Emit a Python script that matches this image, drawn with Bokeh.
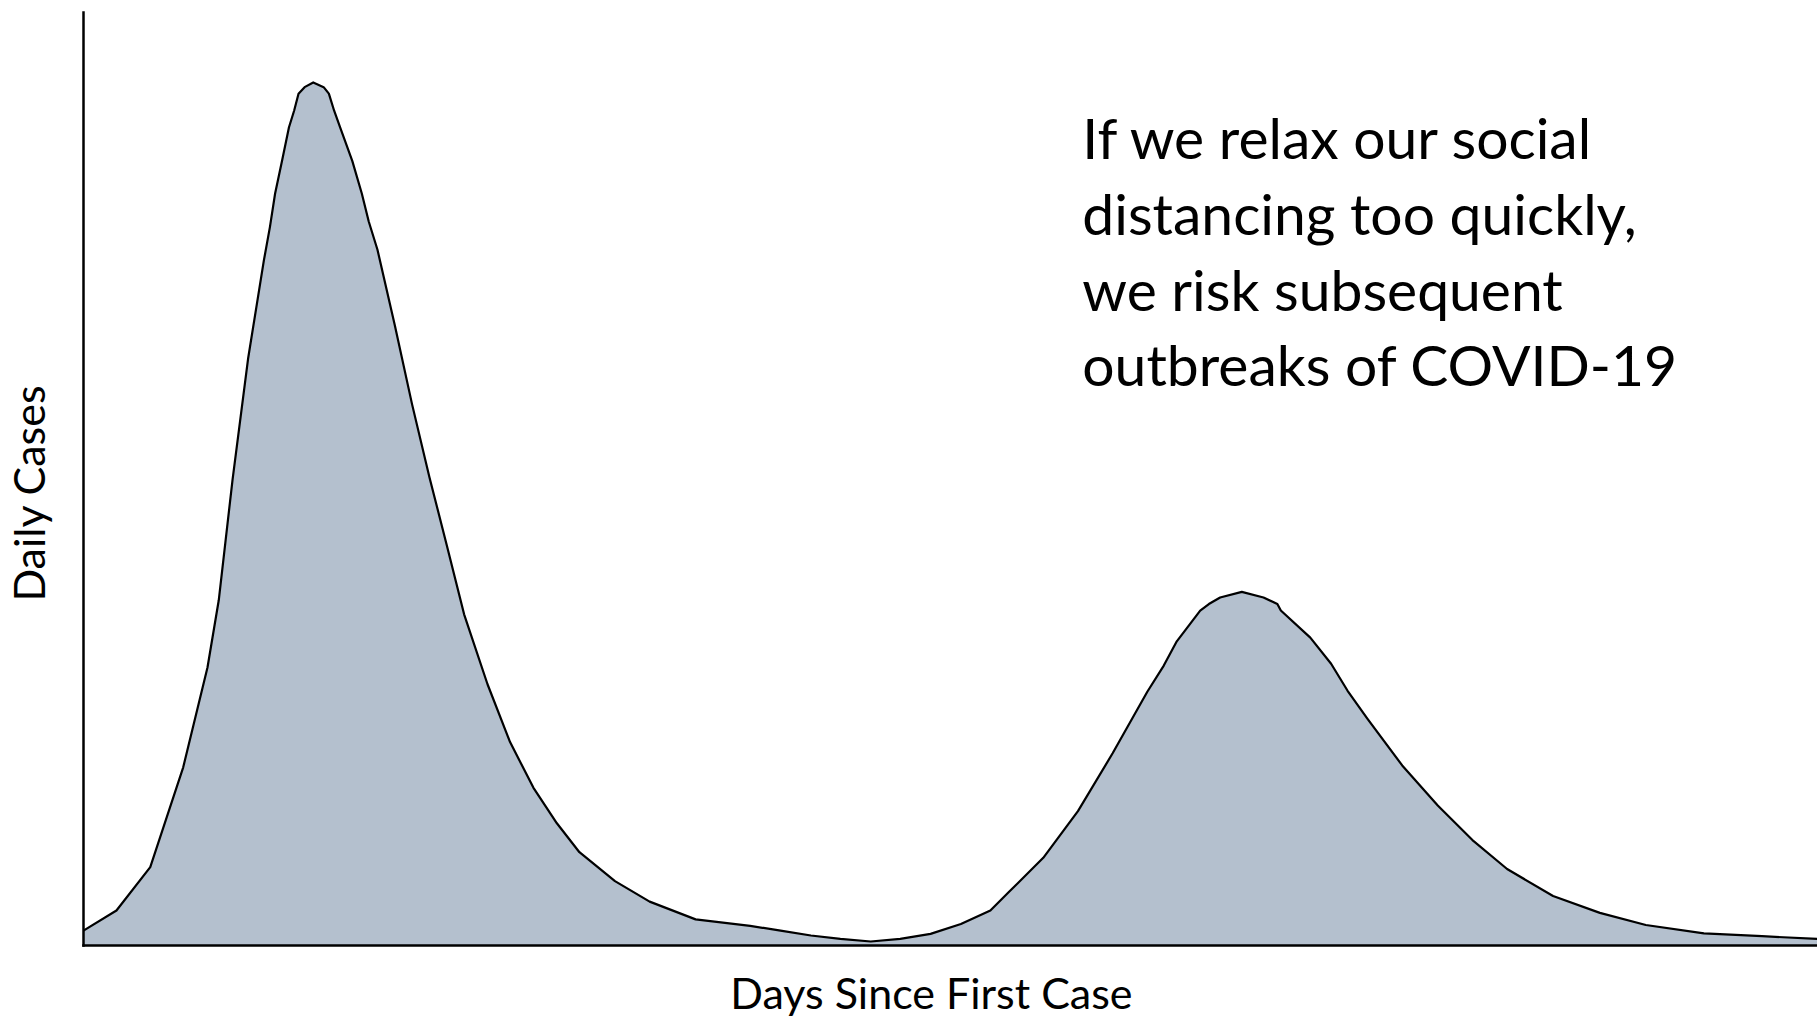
import math
from bokeh.plotting import figure
from bokeh.models import Range1d, Label
from bokeh.embed import file_html
from bokeh.resources import INLINE

# Days since first case (x) and daily cases (arbitrary units, y)
days = [0.0, 3.8, 7.7, 11.5, 14.3, 15.6, 17.2, 19.0, 20.8, 21.5, 22.1, 22.9,
        23.7, 24.3, 24.8, 25.5, 26.5, 27.7, 28.3, 28.9, 29.6, 31.0, 32.1,
        32.9, 33.9, 35.9, 37.9, 39.9, 41.9, 43.9, 46.6, 49.2, 51.9, 54.6,
        57.2, 61.3, 65.3, 70.6, 76.9, 80.4, 83.9, 87.3, 90.8, 94.2, 97.7,
        101.2, 104.6, 106.7, 110.7, 114.7, 118.7, 122.7, 124.6, 126.1, 128.8,
        129.8, 131.1, 133.6, 136.1, 137.7, 138.1, 141.5, 143.9, 145.8, 148.1,
        152.1, 156.2, 160.2, 164.2, 169.5, 174.9, 180.2, 186.9, 193.6, 200.0]
cases = [1.6, 3.75, 8.4, 19.1, 29.8, 37.0, 50.0, 63.0, 73.4, 77.0, 80.6, 84.1,
         87.7, 89.5, 91.3, 92.0, 92.5, 92.0, 91.3, 89.5, 87.7, 84.1, 80.6,
         77.6, 74.6, 66.5, 58.0, 50.2, 42.9, 35.5, 28.0, 21.8, 16.9, 13.1,
         10.0, 6.9, 4.7, 2.8, 2.1, 1.6, 1.07, 0.71, 0.43, 0.71, 1.25,
         2.3, 3.75, 5.7, 9.4, 14.4, 20.6, 27.2, 30.0, 32.6, 35.9,
         36.6, 37.3, 37.9, 37.3, 36.6, 35.9, 33.0, 30.2, 27.3, 24.3,
         19.3, 15.0, 11.3, 8.2, 5.3, 3.5, 2.2, 1.3, 1.0, 0.7]

annotation_lines = ["If we relax our social",
                    "distancing too quickly,",
                    "we risk subsequent",
                    "outbreaks of COVID-19"]
x_label = "Days Since First Case"
y_label = "Daily Cases"

X_END = 200.0   # right end of the day axis
Y_TOP = 100.0   # top of the case axis

FONT = "Lato"

# page layout (pixels): plotting area of the original
W, H = 1817, 1024
LEFT, TOP, BOTTOM = 83, 12, 945
px_x = (W - LEFT) / X_END
px_y = (BOTTOM - TOP) / Y_TOP

p = figure(width=W, height=H, output_backend="svg", toolbar_location=None,
           x_axis_location=None, y_axis_location=None,
           x_range=Range1d(-LEFT / px_x, X_END),
           y_range=Range1d(-(H - BOTTOM) / px_y, Y_TOP + TOP / px_y),
           min_border=0, min_border_left=0, min_border_right=0,
           min_border_top=0, min_border_bottom=0)
p.outline_line_color = None
p.xgrid.visible = False
p.ygrid.visible = False
p.background_fill_color = "white"
p.border_fill_color = "white"

p.varea(x=days, y1=0, y2=cases, fill_color="#b4c0ce", fill_alpha=1.0)
p.line(x=days, y=cases, line_color="black", line_width=2.2, line_join="round")

# axis lines (x axis along y=0, y axis along x=0)
p.segment(x0=[0, 0], y0=[0, 0], x1=[X_END, 0], y1=[0, Y_TOP],
          line_color="black", line_width=2.5, line_cap="square")

# axis titles
p.add_layout(Label(x=97.8, y=-5.04, text=x_label, text_font=FONT,
                   text_font_size="43px", text_color="black",
                   text_align="center", text_baseline="alphabetic"))
p.add_layout(Label(x=-6.4, y=48.5, text=y_label, text_font=FONT,
                   text_font_size="43px", text_color="black",
                   text_align="center", text_baseline="alphabetic",
                   angle=math.pi / 2))

# annotation text
anchors = [86.7, 78.5, 70.4, 62.3]
for txt, yb in zip(annotation_lines, anchors):
    p.add_layout(Label(x=115.2, y=yb, text=txt, text_font=FONT,
                       text_font_size="57px", text_color="black",
                       text_baseline="alphabetic", text_align="left"))

open("out.html", "w").write(file_html(p, INLINE))
